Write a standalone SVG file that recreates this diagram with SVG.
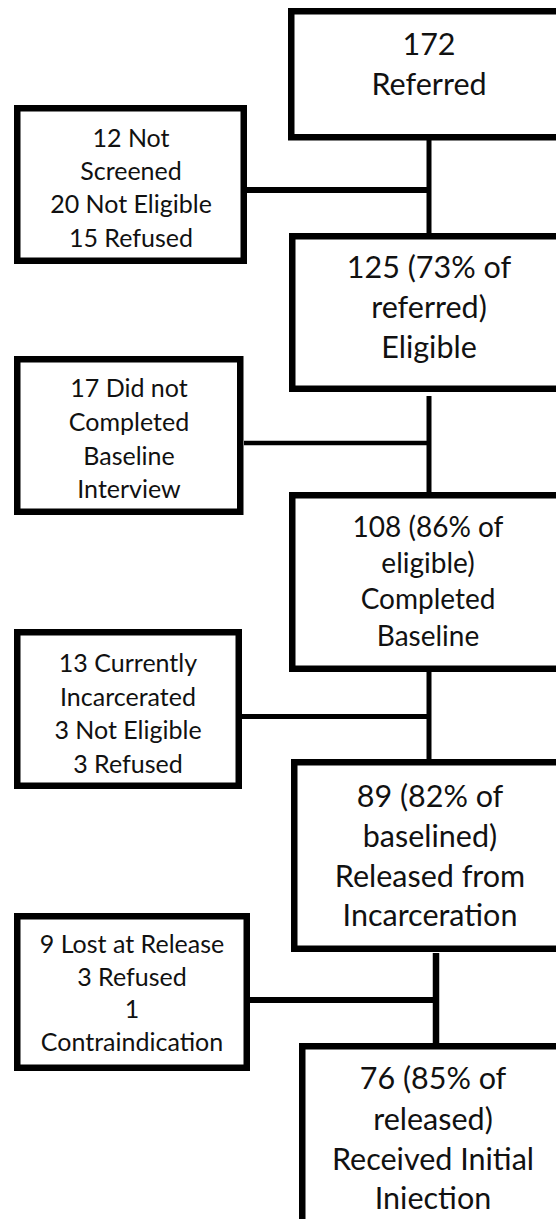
<svg xmlns="http://www.w3.org/2000/svg" width="556" height="1219" viewBox="0 0 556 1219">
<style>
.box{fill:#fff;stroke:#000;stroke-width:6.5}
.t{font-family:Lato,"Open Sans","Liberation Sans",sans-serif;fill:#111;text-anchor:middle}
.m{font-size:30.5px}
.s{font-size:25px}
.b3{font-size:28px}
.c{stroke:#000;fill:none}
</style>
<rect width="556" height="1219" fill="#fff"/>
<g id="connectors">
<line class="c" x1="429" y1="140" x2="429" y2="233" stroke-width="5"/>
<line class="c" x1="247" y1="190" x2="429" y2="190" stroke-width="6"/>
<line class="c" x1="429" y1="396" x2="429" y2="492" stroke-width="5"/>
<line class="c" x1="244" y1="443" x2="429" y2="443" stroke-width="4.5"/>
<line class="c" x1="429" y1="672" x2="429" y2="759" stroke-width="5"/>
<line class="c" x1="242" y1="716.5" x2="429" y2="716.5" stroke-width="5"/>
<line class="c" x1="436" y1="953" x2="436" y2="1043" stroke-width="6.5"/>
<line class="c" x1="250" y1="1000" x2="436" y2="1000" stroke-width="6"/>
</g>
<g id="referred">
<rect class="box" x="291.25" y="11.25" width="300" height="126"/>
<text class="t m" x="429" y="55">172</text>
<text class="t m" x="429" y="95">Referred</text>
</g>
<g id="excluded1">
<rect class="box" x="17.25" y="108.25" width="226.5" height="152.5"/>
<text class="t s" x="131" y="147">12 Not</text>
<text class="t s" x="131" y="180">Screened</text>
<text class="t s" x="131" y="213">20 Not Eligible</text>
<text class="t s" x="131" y="247">15 Refused</text>
</g>
<g id="eligible">
<rect class="box" x="292.25" y="236.25" width="300" height="152.5"/>
<text class="t m" x="429" y="278">125 (73% of</text>
<text class="t m" x="429" y="318">referred)</text>
<text class="t m" x="429" y="358">Eligible</text>
</g>
<g id="excluded2">
<rect class="box" x="17.25" y="359.25" width="223" height="152.5"/>
<text class="t s" x="129" y="397">17 Did not</text>
<text class="t s" x="129" y="431">Completed</text>
<text class="t s" x="129" y="465">Baseline</text>
<text class="t s" x="129" y="498">Interview</text>
</g>
<g id="baseline">
<rect class="box" x="292.25" y="495.25" width="300" height="173.5"/>
<text class="t b3" x="428" y="537">108 (86% of</text>
<text class="t b3" x="428" y="573">eligible)</text>
<text class="t b3" x="428" y="609">Completed</text>
<text class="t b3" x="428" y="646">Baseline</text>
</g>
<g id="excluded3">
<rect class="box" x="17.25" y="632.25" width="221.5" height="153.5"/>
<text class="t s" x="128" y="672">13 Currently</text>
<text class="t s" x="128" y="706">Incarcerated</text>
<text class="t s" x="128" y="739">3 Not Eligible</text>
<text class="t s" x="128" y="773">3 Refused</text>
</g>
<g id="released">
<rect class="box" x="294.25" y="762.25" width="300" height="186.5"/>
<text class="t m" x="430" y="807">89 (82% of</text>
<text class="t m" x="430" y="847">baselined)</text>
<text class="t m" x="430" y="887">Released from</text>
<text class="t m" x="430" y="926">Incarceration</text>
</g>
<g id="excluded4">
<rect class="box" x="17.25" y="916.25" width="229.5" height="151.5"/>
<text class="t s" x="132" y="953">9 Lost at Release</text>
<text class="t s" x="132" y="986">3 Refused</text>
<text class="t s" x="132" y="1018">1</text>
<text class="t s" x="132" y="1051">Contraindication</text>
</g>
<g id="injection">
<rect class="box" x="302.25" y="1046.25" width="300" height="200"/>
<text class="t m" x="433" y="1089">76 (85% of</text>
<text class="t m" x="433" y="1130">released)</text>
<text class="t m" x="433" y="1170">Received Initial</text>
<text class="t m" x="433" y="1209">Iniection</text>
</g>
</svg>
